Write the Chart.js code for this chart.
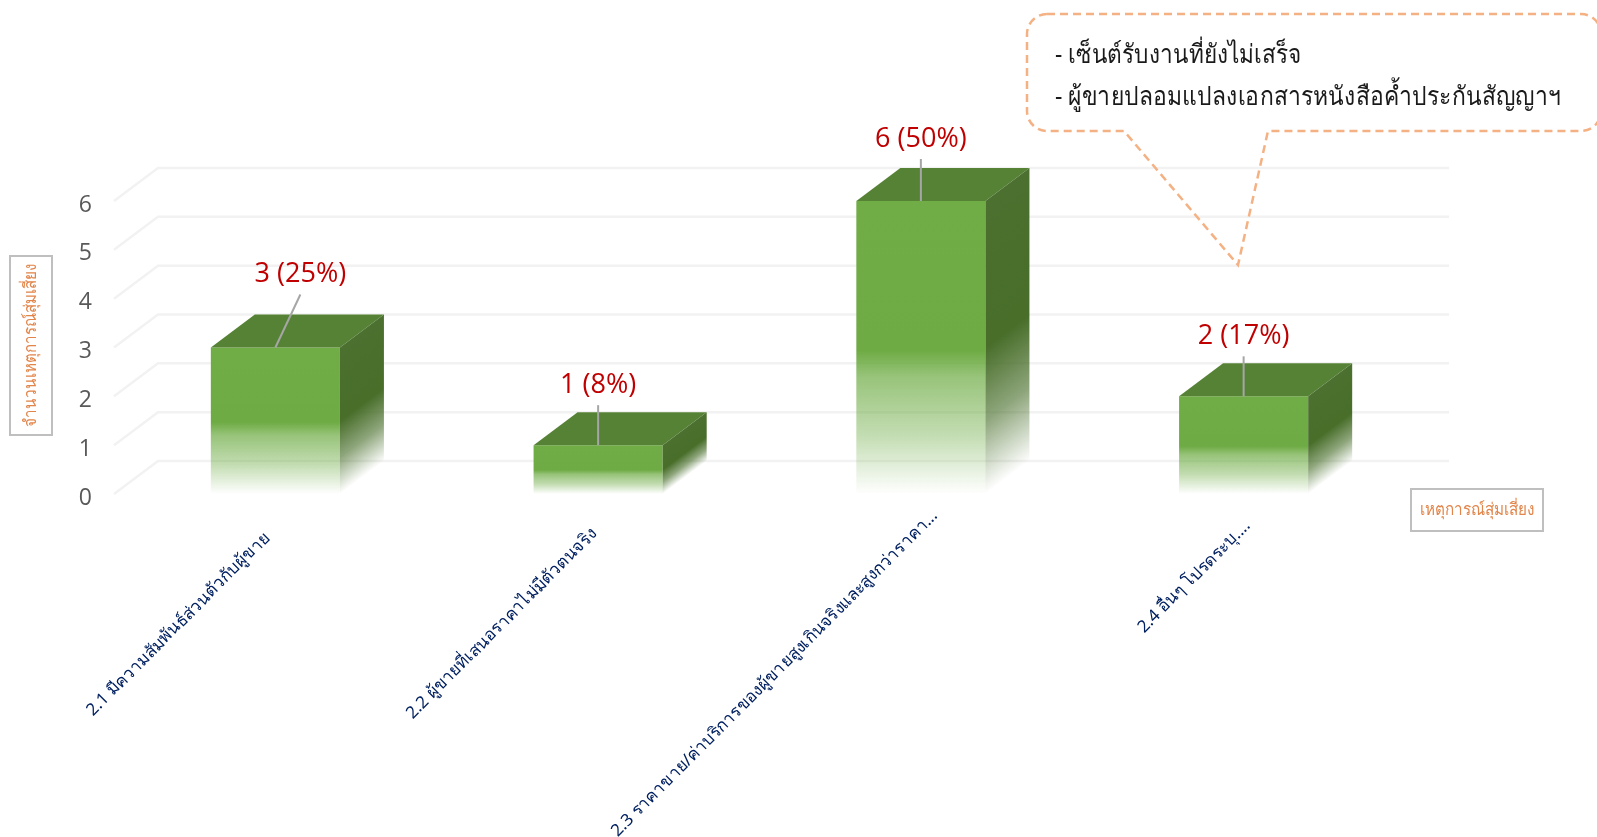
<!DOCTYPE html>
<html lang="th">
<head>
<meta charset="utf-8">
<title>เหตุการณ์สุ่มเสี่ยง</title>
<script src="https://cdn.jsdelivr.net/npm/chart.js@4"></script>
<style>
    html, body { margin: 0; padding: 0; background: #ffffff; overflow: hidden; }
    canvas { display: block; }
</style>
</head>
<body>
<canvas id="grafik" width="1597" height="837"></canvas>
<script>
// data
const categories = [
    '2.1 มีความสัมพันธ์ส่วนตัวกับผู้ขาย',
    '2.2 ผู้ขายที่เสนอราคาไม่มีตัวตนจริง',
    '2.3 ราคาขาย/ค่าบริการของผู้ขายสูงเกินจริงและสูงกว่าราคา...',
    '2.4 อื่นๆ โปรดระบุ....'
];
const values = [3, 1, 6, 2];
const percents = [25, 8, 50, 17];
const calloutLines = ['- เซ็นต์รับงานที่ยังไม่เสร็จ', '- ผู้ขายปลอมแปลงเอกสารหนังสือค้ำประกันสัญญาฯ'];
const yTitle = 'จำนวนเหตุการณ์สุ่มเสี่ยง';
const xTitle = 'เหตุการณ์สุ่มเสี่ยง';

// leader line of each data label
const labelShift = [25, 0, 0, 0];
const leaderLength = [53, 40, 42, 40];
// category labels slide back along their slant
const tickSlide = [22, 18, 0, 10];

const depthX = 44;
const depthY = 33;
const fontThai = '"Noto Sans", "Open Sans", Tahoma, sans-serif';

// fade of the front face, the lower half goes to white
function frontGradient(ctx, top, bottom) {
    const g = ctx.createLinearGradient(0, top, 0, bottom);
    g.addColorStop(0, 'rgb(112,173,71)');
    g.addColorStop(0.51, 'rgb(110,171,68)');
    g.addColorStop(0.6, 'rgba(112,173,71,0.72)');
    g.addColorStop(0.8, 'rgba(112,173,71,0.42)');
    g.addColorStop(1, 'rgba(112,173,71,0)');
    return g;
}

function sideGradient(ctx, top, bottom) {
    const g = ctx.createLinearGradient(0, top, 0, bottom);
    g.addColorStop(0, 'rgb(76,112,47)');
    g.addColorStop(0.5, 'rgb(72,110,42)');
    g.addColorStop(0.75, 'rgba(72,110,42,0.62)');
    g.addColorStop(1, 'rgba(72,110,42,0)');
    return g;
}

// back wall grid lines
const gridPlugin = {
    id: 'gridBelakang',
    beforeDatasetsDraw(chart) {
        const ctx = chart.ctx;
        const area = chart.chartArea;
        const y = chart.scales.y;
        ctx.save();
        ctx.strokeStyle = '#f2f2f2';
        ctx.lineWidth = 2.5;
        y.ticks.forEach(function (tick) {
            const py = y.getPixelForValue(tick.value);
            ctx.beginPath();
            ctx.moveTo(area.left, py);
            ctx.lineTo(area.left + depthX, py - depthY);
            ctx.lineTo(area.right + depthX, py - depthY);
            ctx.stroke();
        });
        ctx.restore();
    }
};

// top and side face of every bar
const boxPlugin = {
    id: 'balok3d',
    afterDatasetsDraw(chart) {
        const ctx = chart.ctx;
        chart.getDatasetMeta(0).data.forEach(function (bar) {
            const left = bar.x - bar.width / 2;
            const right = bar.x + bar.width / 2;
            const top = bar.y;
            const base = bar.base;

            ctx.save();
            ctx.fillStyle = '#568235';
            ctx.beginPath();
            ctx.moveTo(left, top);
            ctx.lineTo(left + depthX, top - depthY);
            ctx.lineTo(right + depthX, top - depthY);
            ctx.lineTo(right, top);
            ctx.closePath();
            ctx.fill();
            ctx.restore();

            // sheared so the fade follows the depth edge
            ctx.save();
            ctx.translate(right, 0);
            ctx.transform(1, -depthY / depthX, 0, 1, 0, 0);
            ctx.fillStyle = sideGradient(ctx, top, base);
            ctx.fillRect(0, top, depthX, base - top);
            ctx.restore();
        });
    }
};

// red labels with the grey leader line
const labelPlugin = {
    id: 'labelData',
    afterDatasetsDraw(chart) {
        const ctx = chart.ctx;
        chart.getDatasetMeta(0).data.forEach(function (bar, i) {
            const endY = bar.y - leaderLength[i];
            const endX = bar.x + labelShift[i];
            ctx.save();
            ctx.strokeStyle = '#a6a6a6';
            ctx.lineWidth = 2;
            ctx.beginPath();
            ctx.moveTo(bar.x, bar.y);
            ctx.lineTo(endX, endY);
            ctx.stroke();
            ctx.fillStyle = '#c00000';
            ctx.font = '500 27px "Open Sans", sans-serif';
            ctx.textAlign = 'center';
            ctx.textBaseline = 'middle';
            ctx.fillText(`${values[i]} (${percents[i]}%)`, endX, endY - 20);
            ctx.restore();
        });
    }
};

// category labels do not end at one height in the picture
const tickPlugin = {
    id: 'geserLabel',
    afterLayout(chart) {
        chart.scales.x.getLabelItems(chart.chartArea).forEach(function (item, i) {
            item.options.translation[0] -= tickSlide[i];
            item.options.translation[1] += tickSlide[i];
        });
    }
};

// boxed axis titles and the callout
const notePlugin = {
    id: 'catatan',
    afterDraw(chart) {
        const ctx = chart.ctx;
        ctx.save();

        // axis titles
        ctx.strokeStyle = '#bfbfbf';
        ctx.lineWidth = 2;
        ctx.strokeRect(10, 256, 42, 179);
        ctx.strokeRect(1411, 489, 132, 42);
        ctx.fillStyle = '#e2854a';
        ctx.font = '17px ' + fontThai;
        ctx.textAlign = 'center';
        ctx.textBaseline = 'middle';
        ctx.fillText(xTitle, 1477, 510, 115);
        ctx.save();
        ctx.translate(31, 345);
        ctx.rotate(-Math.PI / 2);
        ctx.fillText(yTitle, 0, 0, 163);
        ctx.restore();

        // callout
        const l = 1027, t = 14, r = 1601, b = 131, rad = 20;
        ctx.strokeStyle = '#f4b183';
        ctx.lineWidth = 2.5;
        ctx.setLineDash([8, 5]);
        ctx.beginPath();
        ctx.moveTo(l + rad, t);
        ctx.arcTo(r, t, r, b, rad);
        ctx.arcTo(r, b, l, b, rad);
        ctx.lineTo(1268, b);
        ctx.lineTo(1238, 265);
        ctx.lineTo(1124, b);
        ctx.arcTo(l, b, l, t, rad);
        ctx.arcTo(l, t, r, t, rad);
        ctx.closePath();
        ctx.stroke();
        ctx.setLineDash([]);

        ctx.fillStyle = '#1a1a1a';
        ctx.font = '26px ' + fontThai;
        ctx.textAlign = 'left';
        ctx.fillText(calloutLines[0], 1055, 56, 246);
        ctx.fillText(calloutLines[1], 1055, 98, 506);
        ctx.restore();
    }
};

const ctx = document.getElementById('grafik').getContext('2d');
new Chart(ctx, {
    type: 'bar',
    data: {
        labels: categories,
        datasets: [{
            data: values,
            backgroundColor: function (context) {
                const chart = context.chart;
                if (!chart.chartArea) return '#70ad47';
                const y = chart.scales.y;
                return frontGradient(chart.ctx, y.getPixelForValue(context.raw), y.getPixelForValue(0));
            },
            borderWidth: 0,
            barPercentage: 0.8,
            categoryPercentage: 0.5
        }]
    },
    options: {
        responsive: false,
        animation: false,
        devicePixelRatio: 1,
        layout: { padding: { top: 201, right: 192, left: 0, bottom: 0 } },
        plugins: {
            legend: { display: false },
            tooltip: { enabled: false }
        },
        scales: {
            x: {
                grid: { display: false },
                border: { display: false },
                afterFit: function (scale) { scale.height = 343; },
                ticks: {
                    autoSkip: false,
                    minRotation: 45,
                    maxRotation: 45,
                    padding: 4,
                    labelOffset: 14,
                    color: '#002060',
                    font: { family: fontThai, size: 17 }
                }
            },
            y: {
                min: 0,
                max: 6,
                grid: { display: false, drawTicks: false },
                border: { display: false },
                afterFit: function (scale) { scale.width = 114; },
                ticks: {
                    stepSize: 1,
                    padding: 22,
                    labelOffset: 4,
                    color: '#595959',
                    font: { family: '"Open Sans", sans-serif', size: 23 }
                }
            }
        }
    },
    plugins: [tickPlugin, gridPlugin, boxPlugin, labelPlugin, notePlugin]
});
</script>
</body>
</html>
